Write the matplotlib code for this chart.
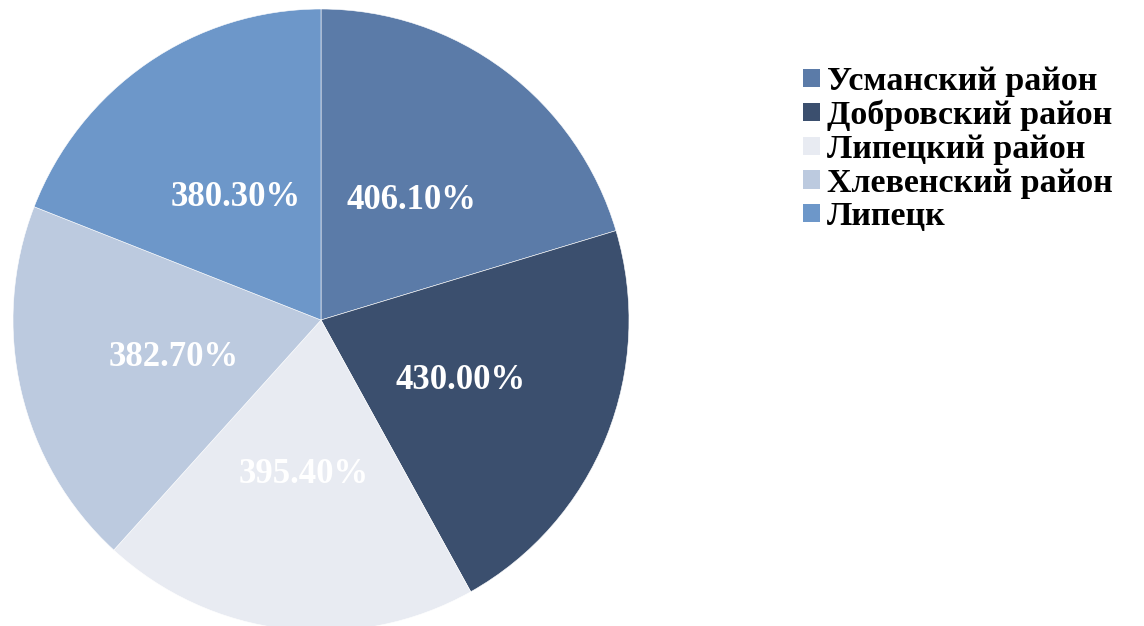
import numpy as np
import matplotlib.pyplot as plt
from matplotlib.patches import Patch

labels = ["Усманский район", "Добровский район", "Липецкий район",
          "Хлевенский район", "Липецк"]
values = [406.1, 430.0, 395.4, 382.7, 380.3]
colors = ["#5b7ba8", "#3b4f6e", "#e8ebf2", "#bccadf", "#6d97c9"]

plt.rcParams['font.family'] = ['Liberation Serif', 'DejaVu Serif']

W, H = 1144, 626
fig = plt.figure(figsize=(W / 100, H / 100), dpi=100)
cx, cy, rx, ry = 321, 320, 308, 311
ax = fig.add_axes([(cx - rx) / W, (H - cy - ry) / H, 2 * rx / W, 2 * ry / H])

wedges, _ = ax.pie(values, colors=colors, startangle=90, counterclock=False,
                   radius=1, wedgeprops=dict(edgecolor="white", linewidth=0.4))
ax.set_xlim(-1, 1)
ax.set_ylim(-1, 1)
ax.set_aspect("auto")
ax.axis("off")

# labels show the raw value with a % sign, placed at about half radius
total = sum(values)
ang = 90.0
for v in values:
    span = v / total * 360
    mid = np.deg2rad(ang - span / 2)
    d = 0.49
    ax.text(d * np.cos(mid), d * np.sin(mid) - 0.01, f"{v:.2f}%",
            ha="center", va="center", color="white", fontsize=25,
            fontweight="bold")
    ang -= span

handles = [Patch(facecolor=c, edgecolor="none") for c in colors]
fig.legend(handles, labels, loc="upper left", bbox_to_anchor=(803 / W, 1 - 66 / H),
           frameon=False, prop=dict(weight="bold", size=24.5),
           handlelength=0.5, handleheight=0.45, handletextpad=0.2,
           labelspacing=0.08, borderaxespad=0, borderpad=0)

fig.savefig("out.png", dpi=100)
